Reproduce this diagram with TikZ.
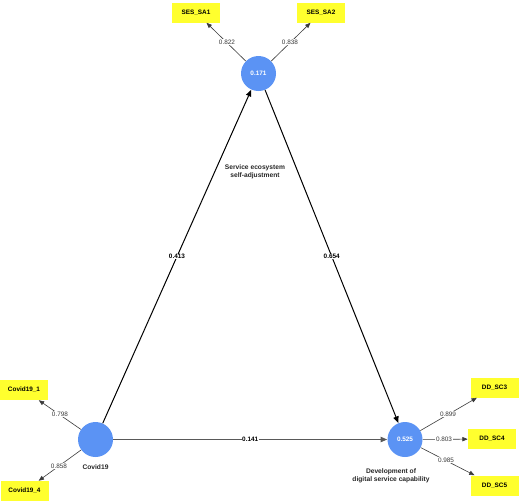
\documentclass[tikz,border=0pt]{standalone}
\usepackage{fontspec}
\setmainfont{Liberation Sans}
\usetikzlibrary{arrows.meta}
\definecolor{lvblue}{HTML}{5B93F4}
\definecolor{mvyellow}{HTML}{FFFF2E}
\definecolor{linegray}{HTML}{3A3A3A}
\tikzset{
  latent/.style={circle,fill=lvblue,draw=none,minimum size=26.25pt,inner sep=0pt,text=white,font=\fontsize{4.8}{5.5}\selectfont\bfseries},
  manifest/.style={rectangle,fill=mvyellow,draw=none,minimum width=36pt,minimum height=15pt,inner sep=0pt,font=\fontsize{4.8}{5.5}\selectfont\bfseries},
  loadline/.style={draw=linegray,line width=0.45pt,-{Triangle[length=4pt,width=3.2pt]}},
  pathline/.style={draw=black,line width=0.75pt,-{Triangle[length=5pt,width=4pt]}},
  loadlab/.style={fill=white,inner sep=0.4pt,text=linegray,font=\fontsize{4.8}{5.5}\selectfont},
  pathlab/.style={fill=white,inner sep=0.4pt,font=\fontsize{4.8}{5.5}\selectfont\bfseries},
  conlab/.style={align=center,font=\fontsize{5}{6}\selectfont\bfseries,text=black!85}
}
\begin{document}
\begin{tikzpicture}[x=0.75pt,y=-0.75pt]
\useasboundingbox (0,0) rectangle (520,501);
% latent variables
\node[latent] (ses) at (258.5,73.5) {0.171};
\node[latent] (cov) at (95.5,439.5) {};
\node[latent] (dd) at (405,439.5) {0.525};
% indicators
\node[manifest] (sa1) at (196,12.5) {SES\_SA1};
\node[manifest] (sa2) at (321,12.5) {SES\_SA2};
\node[manifest] (c1) at (24,390) {Covid19\_1};
\node[manifest] (c4) at (24.5,491) {Covid19\_4};
\node[manifest] (sc3) at (494.5,387.5) {DD\_SC3};
\node[manifest] (sc4) at (492,439) {DD\_SC4};
\node[manifest] (sc5) at (494.5,485.5) {DD\_SC5};
% construct labels
\node[conlab] (lses) at (255,172) {Service ecosystem\\self-adjustment};
\node[conlab] (lcov) at (95.5,467) {Covid19};
\node[conlab] (ldd) at (391,475.5) {Development of\\digital service capability};
% loadings
\draw[loadline] (ses) -- (sa1);
\draw[loadline] (ses) -- (sa2);
\draw[loadline] (cov) -- (c1);
\draw[loadline] (cov) -- (c4);
\draw[loadline] (dd) -- (sc3);
\draw[loadline] (dd) -- (sc4);
\draw[loadline] (dd) -- (sc5);
\node[loadlab] (l1) at (227,42) {0.822};
\node[loadlab] (l2) at (290,42) {0.838};
\node[loadlab] (l3) at (60,414) {0.798};
\node[loadlab] (l4) at (59,466) {0.858};
\node[loadlab] (l5) at (448,414) {0.899};
\node[loadlab] (l6) at (444,439) {0.803};
\node[loadlab] (l7) at (446,460) {0.985};
% structural paths
\draw[pathline] (cov) -- node[pathlab] (p1) {0.413} (ses);
\draw[pathline] (ses) -- node[pathlab] (p2) {0.654} (dd);
\draw[pathline,draw=black!65,line width=1pt] (cov) -- node[pathlab] (p3) {0.141} (dd);
\end{tikzpicture}
\end{document}
